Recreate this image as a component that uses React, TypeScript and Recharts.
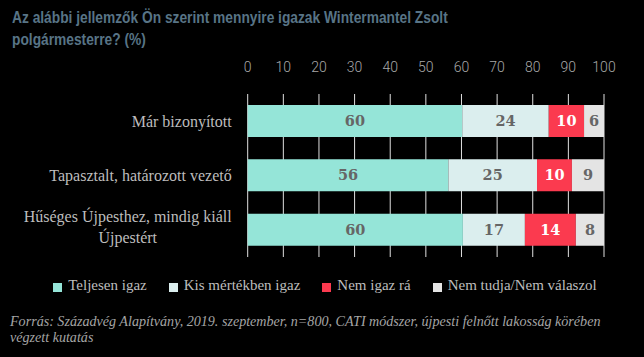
import { Bar, BarChart, CartesianGrid, LabelList, XAxis, YAxis } from "recharts";

const categories = [
  "Már bizonyított",
  "Tapasztalt, határozott vezető",
  "Hűséges Újpesthez, mindig kiáll Újpestért",
];
const labelLines = [["Már bizonyított"], ["Tapasztalt, határozott vezető"], ["Hűséges Újpesthez, mindig kiáll", "Újpestért"]];

const teljesen = [60.2, 56.3, 60.4];
const kis = [24.3, 24.9, 17.4];
const nem = [9.9, 9.8, 14.3];
const nemTudja = [5.6, 9.0, 7.9];

const xTicks = [0, 10, 20, 30, 40, 50, 60, 70, 80, 90, 100];

const series = [
  { key: "teljesen", name: "Teljesen igaz", color: "#95e5d8", text: "#666" },
  { key: "kis", name: "Kis mértékben igaz", color: "#dbeeee", text: "#666" },
  { key: "nem", name: "Nem igaz rá", color: "#fb3a4f", text: "#fff" },
  { key: "nemTudja", name: "Nem tudja/Nem válaszol", color: "#e4e4e4", text: "#666" },
];

const data = categories.map((name, i) => ({
  name,
  teljesen: teljesen[i],
  kis: kis[i],
  nem: nem[i],
  nemTudja: nemTudja[i],
}));

const serif = "'Liberation Serif', 'DejaVu Serif', serif";
const catSize = 16;

let ctx: CanvasRenderingContext2D | null = null;
function measure(s: string) {
  if (!ctx) ctx = document.createElement("canvas").getContext("2d");
  if (!ctx) return s.length * 7;
  ctx.font = `${catSize}px ${serif}`;
  return ctx.measureText(s).width;
}

function CategoryTick(props: any) {
  const { x, y, payload, index } = props;
  const lines = labelLines[index] ?? [payload.value];
  const lh = 21;
  const y0 = y - ((lines.length - 1) * lh) / 2 - (lines.length > 1 ? 3 : 0);
  const widest = Math.max(...lines.map(measure));
  return (
    <g>
      {lines.map((l: string, i: number) => (
        <text
          key={i}
          x={lines.length > 1 ? x - widest / 2 : x}
          y={y0 + i * lh}
          dy="0.35em"
          textAnchor={lines.length > 1 ? "middle" : "end"}
          fill="#bdbdbd"
          fontSize={catSize}
          fontFamily={serif}
        >
          {l}
        </text>
      ))}
    </g>
  );
}

export default function App() {
  return (
    <div
      style={{
        position: "relative",
        width: 644,
        height: 357,
        background: "#000",
        overflow: "hidden",
      }}
    >
      <style>{`body{margin:0}`}</style>
      <div
        style={{
          position: "absolute",
          left: 12,
          top: 7,
          fontFamily: "'Liberation Sans', sans-serif",
          fontWeight: 700,
          fontSize: 16,
          lineHeight: "22px",
          color: "#587486",
          transform: "scaleX(0.86)",
          transformOrigin: "left top",
          whiteSpace: "nowrap",
        }}
      >
        Az alábbi jellemzők Ön szerint mennyire igazak Wintermantel Zsolt
        <br />
        polgármesterre? (%)
      </div>
      <div style={{ position: "absolute", left: 0, top: 0 }}>
        <BarChart
          width={644}
          height={357}
          data={data}
          layout="vertical"
          margin={{ top: 64, right: 40, bottom: 100, left: 0 }}
        >
          <CartesianGrid horizontal={false} stroke="#e0e0e0" strokeWidth={1} />
          <XAxis
            type="number"
            orientation="top"
            domain={[0, 100]}
            ticks={xTicks}
            height={30}
            axisLine={false}
            tickLine={false}
            tickSize={0}
            tickMargin={22}
            tick={{ fill: "#a8a8a8", fontSize: 14, fontFamily: "Roboto", fontWeight: 300 }}
          />
          <YAxis
            type="category"
            dataKey="name"
            width={247.7}
            axisLine={false}
            tickLine={false}
            tickSize={0}
            tickMargin={16}
            tick={<CategoryTick />}
          />
          {series.map((s) => (
            <Bar
              key={s.key}
              dataKey={s.key}
              name={s.name}
              stackId="a"
              fill={s.color}
              barSize={32}
              isAnimationActive={false}
            >
              <LabelList
                dataKey={s.key}
                position="center"
                formatter={(v: any) => Math.round(Number(v))}
                fill={s.text}
                fontSize={14.5}
                fontWeight={700}
                fontFamily="'DejaVu Serif', serif"
              />
            </Bar>
          ))}
        </BarChart>
      </div>
      <div
        style={{
          position: "absolute",
          top: 277,
          left: 0,
          width: 650,
          display: "flex",
          justifyContent: "center",
          gap: 22,
          fontFamily: serif,
          fontSize: 15,
          color: "#bdbdbd",
        }}
      >
        {series.map((s) => (
          <div key={s.key} style={{ display: "flex", alignItems: "center" }}>
            <span
              style={{
                display: "inline-block",
                width: 9,
                height: 9,
                background: s.color,
                marginRight: 6,
                marginTop: 3,
              }}
            />
            {s.name}
          </div>
        ))}
      </div>
      <div
        style={{
          position: "absolute",
          left: 10,
          top: 313,
          fontFamily: serif,
          fontStyle: "italic",
          fontSize: 14.1,
          lineHeight: "16px",
          color: "#a5a5a5",
          whiteSpace: "nowrap",
        }}
      >
        Forrás: Századvég Alapítvány, 2019. szeptember, n=800, CATI módszer, újpesti felnőtt lakosság körében
        <br />
        végzett kutatás
      </div>
    </div>
  );
}
